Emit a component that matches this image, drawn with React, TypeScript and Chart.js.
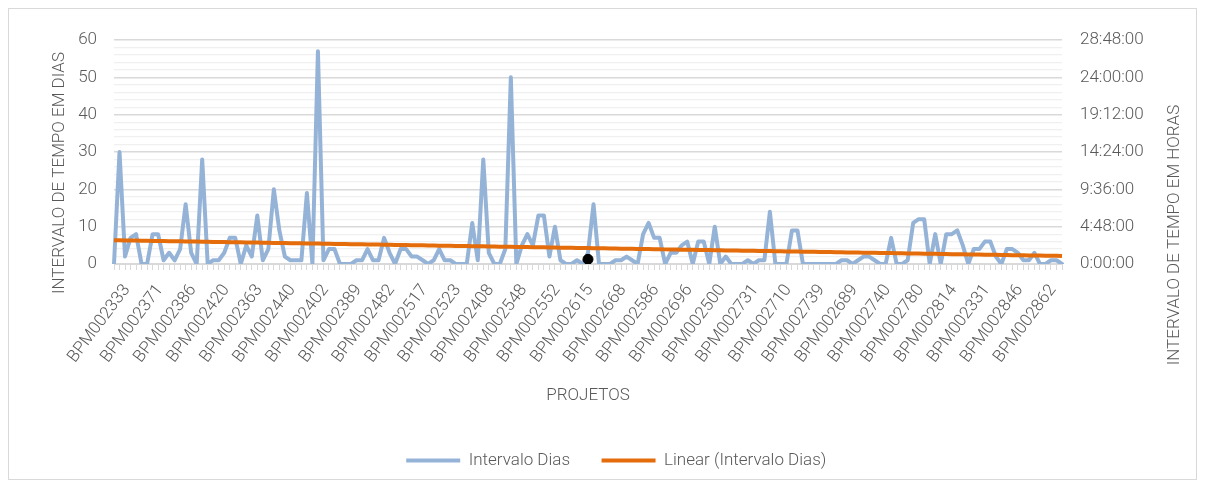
import React, { useEffect, useRef } from 'react';
import { Chart, registerables } from 'chart.js';

Chart.register(...registerables);

// ---- data ----
const tickLabels = [
  'BPM002333', 'BPM002371', 'BPM002386', 'BPM002420', 'BPM002363', 'BPM002440',
  'BPM002402', 'BPM002389', 'BPM002482', 'BPM002517', 'BPM002523', 'BPM002408',
  'BPM002548', 'BPM002552', 'BPM002615', 'BPM002668', 'BPM002586', 'BPM002696',
  'BPM002500', 'BPM002731', 'BPM002710', 'BPM002739', 'BPM002689', 'BPM002740',
  'BPM002780', 'BPM002814', 'BPM002331', 'BPM002846', 'BPM002862',
];
const labelEvery = 6;

const diasValues = [
  0, 30, 2, 7, 8, 0, 0, 8, 8, 1,
  3, 1, 4, 16, 3, 0, 28, 0, 1, 1,
  3, 7, 7, 0, 5, 2, 13, 1, 4, 20,
  9, 2, 1, 1, 1, 19, 0, 57, 1, 4,
  4, 0, 0, 0, 1, 1, 4, 1, 1, 7,
  3, 0, 4, 4, 2, 2, 1, 0, 1, 4,
  1, 1, 0, 0, 0, 11, 1, 28, 3, 0,
  0, 4, 50, 0, 5, 8, 5, 13, 13, 2,
  10, 1, 0, 0, 1, 0, 3, 16, 0, 0,
  0, 1, 1, 2, 1, 0, 8, 11, 7, 7,
  0, 3, 3, 5, 6, 0, 6, 6, 0, 10,
  0, 2, 0, 0, 0, 1, 0, 1, 1, 14,
  0, 0, 0, 9, 9, 0, 0, 0, 0, 0,
  0, 0, 1, 1, 0, 1, 2, 2, 1, 0,
  0, 7, 0, 0, 1, 11, 12, 12, 0, 8,
  0, 8, 8, 9, 5, 0, 4, 4, 6, 6,
  2, 0, 4, 4, 3, 1, 1, 3, 0, 0,
  1, 1, 0,
];

const markerIndex = 86;
const markerHours = 0.6;

const leftTitle = 'INTERVALO DE TEMPO EM DIAS';
const rightTitle = 'INTERVALO DE TEMPO EM HORAS';
const xTitle = 'PROJETOS';
const seriesName = 'Intervalo Dias';
const trendName = 'Linear (Intervalo Dias)';

const FONT = "Roboto, 'Liberation Sans', sans-serif";
const GRAY = '#595959';
const PAD_LEFT = 27.5;

function fmtHours(v: number): string {
  const m = Math.round(v * 60);
  const h = Math.floor(m / 60);
  const mm = m % 60;
  return `${h}:${String(mm).padStart(2, '0')}:00`;
}

export default function App() {
  const ref = useRef<HTMLCanvasElement>(null);

  useEffect(() => {
    const n = diasValues.length;
    let sx = 0, sy = 0, sxx = 0, sxy = 0;
    diasValues.forEach((v, i) => { sx += i; sy += v; sxx += i * i; sxy += i * v; });
    const slope = (n * sxy - sx * sy) / (n * sxx - sx * sx);
    const intercept = (sy - slope * sx) / n;
    const trend = diasValues.map((_, i) => intercept + slope * i);
    const categories = diasValues.map((_, i) =>
      i % labelEvery === 0 ? (tickLabels[i / labelEvery] ?? '') : '');
    const marker = diasValues.map((_, i) => (i === markerIndex ? markerHours : null));

    const titlesPlugin = {
      id: 'titles',
      afterDraw(chart: any) {
        const ctx = chart.ctx as CanvasRenderingContext2D;
        const area = chart.chartArea;
        const xs = chart.scales.x;
        ctx.save();
        ctx.fillStyle = GRAY;
        // rotated category labels, positioned by the x scale
        ctx.font = `300 17px ${FONT}`;
        ctx.textAlign = 'right';
        ctx.textBaseline = 'middle';
        const ang = (-53 * Math.PI) / 180;
        categories.forEach((lab, i) => {
          if (!lab) return;
          const px = xs.getPixelForValue(i);
          ctx.save();
          ctx.translate(px + 13, area.bottom + 23);
          ctx.rotate(ang);
          ctx.fillText(lab, 0, 0);
          ctx.restore();
        });
        ctx.textAlign = 'center';
        ctx.fillText(xTitle, (area.left + area.right) / 2, 387);
        ctx.save();
        ctx.translate(51, 164);
        ctx.rotate(-Math.PI / 2);
        ctx.fillText(leftTitle, 0, 0);
        ctx.restore();
        ctx.save();
        ctx.translate(1166, 226);
        ctx.rotate(-Math.PI / 2);
        ctx.fillText(rightTitle, 0, 0);
        ctx.restore();
        ctx.restore();
      },
    };

    const chart = new Chart(ref.current!, {
      type: 'line',
      data: {
        labels: categories,
        datasets: [
          {
            label: seriesName,
            data: diasValues,
            borderColor: '#95B3D7',
            backgroundColor: '#95B3D7',
            borderWidth: 4,
            pointRadius: 0,
            tension: 0,
            borderJoinStyle: 'round',
            borderCapStyle: 'round',
            yAxisID: 'y',
            order: 3,
          },
          {
            label: trendName,
            data: trend,
            borderColor: '#E46C0A',
            backgroundColor: '#E46C0A',
            borderWidth: 4,
            pointRadius: 0,
            yAxisID: 'y',
            order: 2,
          },
          {
            label: 'marker',
            data: marker,
            showLine: false,
            pointRadius: 5,
            pointBackgroundColor: '#000',
            pointBorderColor: '#000',
            yAxisID: 'y1',
            order: 1,
          },
        ],
      },
      options: {
        responsive: false,
        animation: false,
        layout: { padding: { top: 31, left: PAD_LEFT, right: 0, bottom: 0 } },
        plugins: {
          tooltip: { enabled: false },
          legend: {
            position: 'bottom',
            labels: {
              usePointStyle: true,
              pointStyle: 'line',
              pointStyleWidth: 54,
              color: GRAY,
              font: { family: FONT, size: 17, weight: '300' as any },
              padding: 31.5,
              filter: (item: any) => item.datasetIndex !== 2,
              sort: (a: any, b: any) => a.datasetIndex - b.datasetIndex,
            },
          },
        },
        scales: {
          x: {
            type: 'category',
            offset: false,
            grid: { drawOnChartArea: false, drawTicks: true, tickLength: 6, color: '#d9d9d9' },
            border: { color: '#d9d9d9', width: 1 },
            ticks: { display: false, autoSkip: false },
            afterFit: (s: any) => { s.height = 156.5; },
          },
          y: {
            position: 'left',
            min: 0,
            max: 60,
            ticks: {
              stepSize: 2,
              autoSkip: false,
              callback: (v: any) => (Number(v) % 10 === 0 ? String(v) : ''),
              color: GRAY,
              padding: 17,
              font: { family: FONT, size: 17, weight: '300' as any },
            },
            grid: {
              drawTicks: false,
              color: (c: any) => (c.tick && c.tick.value % 10 === 0 ? '#d9d9d9' : '#f0f0f0'),
              lineWidth: (c: any) => (c.tick && c.tick.value % 10 === 0 ? 1.5 : 1.2),
            },
            border: { display: false },
            afterFit: (s: any) => { s.width = 105 - PAD_LEFT; },
          },
          y1: {
            position: 'right',
            min: 0,
            max: 28.8,
            ticks: {
              stepSize: 4.8,
              autoSkip: false,
              callback: (v: any) => fmtHours(Number(v)),
              color: GRAY,
              padding: 18,
              font: { family: FONT, size: 17, weight: '300' as any },
            },
            grid: { drawOnChartArea: false, drawTicks: false },
            border: { display: false },
            afterFit: (s: any) => { s.width = 134; },
          },
        },
      },
      plugins: [titlesPlugin],
    } as any);

    return () => chart.destroy();
  }, []);

  return (
    <div style={{ width: 1187, height: 470, border: '1px solid #d9d9d9', background: '#fff' }}>
      <canvas ref={ref} width={1187} height={470} style={{ display: 'block' }} />
    </div>
  );
}
